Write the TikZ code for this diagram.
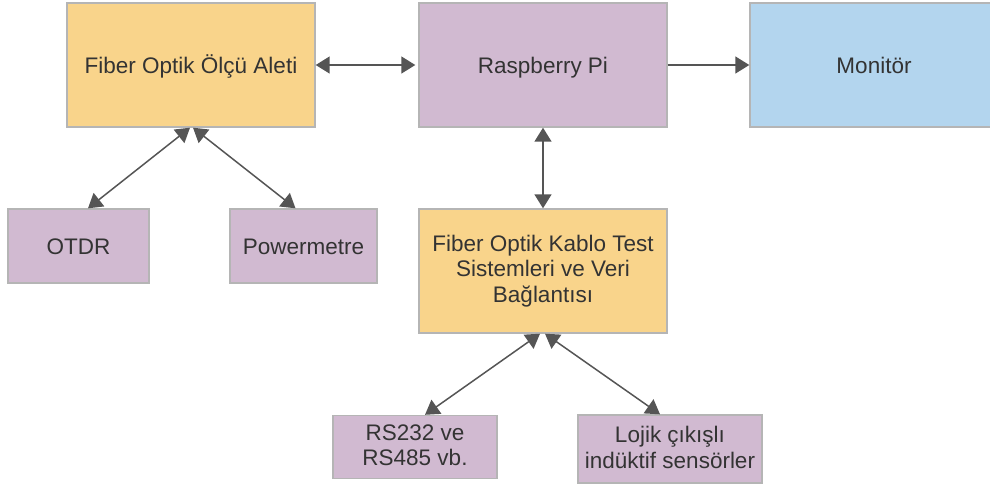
\documentclass[tikz,border=0pt]{standalone}
\usepackage{fontspec}
\setmainfont{Liberation Sans}
\usepackage{xcolor}
\usepackage{tikz}
\usetikzlibrary{arrows.meta}
\definecolor{boxorange}{HTML}{F9D48B}
\definecolor{boxpurple}{HTML}{D1BAD1}
\definecolor{boxblue}{HTML}{B3D5EE}
\definecolor{boxline}{HTML}{B5B5B5}
\definecolor{linkgray}{HTML}{555555}
\definecolor{txtgray}{HTML}{333333}
\newcommand\lnstrut{\rule[-1.9pt]{0pt}{12.6pt}}
\tikzstyle{box}=[draw=boxline,line width=.7pt,text=txtgray,align=center,inner sep=2pt,font=\fontsize{11.25}{12.75}\selectfont,
  execute at begin node=\lnstrut,execute at end node=\lnstrut]
\tikzstyle{bigbox}=[box,minimum width=124pt,minimum height=62pt]
\tikzstyle{linkhead}=[>/.tip={Triangle[length=7pt,width=8.5pt]}]
\tikzstyle{lnk} =[line width=.75pt,color=linkgray,linkhead,->]
\tikzstyle{lnkb}=[line width=.75pt,color=linkgray,linkhead,<->]

\begin{document}
\begin{tikzpicture}[x=.5pt,y=-.5pt]
	\clip (0,0) rectangle (990,484);
	\node[bigbox,fill=boxorange] (olcu) at (191,65) {Fiber Optik Ölçü Aleti};
	\node[bigbox,fill=boxpurple] (rpi)  at (543,65) {Raspberry Pi};
	\node[bigbox,fill=boxblue]   (mon)  at (874,65) {Monitör};
	\node[box,fill=boxpurple,minimum width=70.5pt,minimum height=37pt] (otdr) at (78.5,246) {OTDR};
	\node[box,fill=boxpurple,minimum width=73.5pt,minimum height=37pt] (pwr)  at (303.5,246) {Powermetre};
	\node[bigbox,fill=boxorange] (test) at (543,271) {Fiber Optik Kablo Test\\Sistemleri ve Veri\\Bağlantısı};
	\node[box,fill=boxpurple,minimum width=82pt,minimum height=31.5pt] (rs)  at (415,447) {RS232 ve\\RS485 vb.};
	\node[box,fill=boxpurple,minimum width=92pt,minimum height=34pt]   (loj) at (670,449) {Lojik çıkışlı\\indüktif sensörler};
	\draw[lnkb,shorten >=1.5pt] (olcu) -- (rpi);
	\draw[lnk] (rpi) -- (mon);
	\draw[lnkb] (rpi) -- (test);
	\draw[lnkb] ([xshift=-.5pt]olcu.south) -- ([xshift=4.75pt]otdr.north);
	\draw[lnkb] ([xshift=1pt]olcu.south)   -- ([xshift=-4pt]pwr.north);
	\draw[lnkb] ([xshift=-1.5pt]test.south) -- ([xshift=5pt]rs.north);
	\draw[lnkb] ([xshift=1pt]test.south)    -- ([xshift=-5pt]loj.north);
\end{tikzpicture}
\end{document}
